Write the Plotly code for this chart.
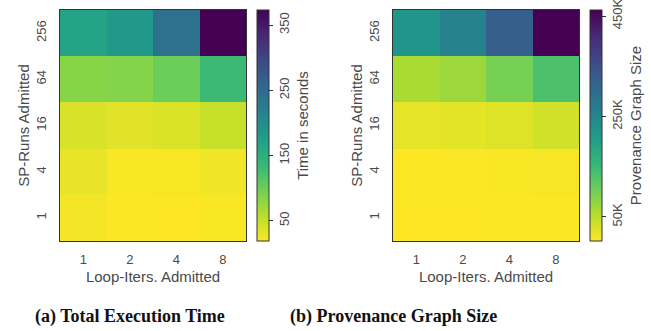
import plotly.graph_objects as go

loop_iters = ["1", "2", "4", "8"]
sp_runs = ["1", "4", "16", "64", "256"]

# Total execution time in seconds, rows = sp_runs (bottom to top), cols = loop_iters
time_seconds = [
    [24, 20, 19, 21],
    [30, 21, 22, 26],
    [40, 35, 38, 49],
    [83, 86, 100, 132],
    [168, 185, 242, 373],
]

# Provenance graph size (nodes), rows = sp_runs, cols = loop_iters
graph_size = [
    [2000, 2200, 2500, 3000],
    [3000, 3500, 5000, 7000],
    [18000, 20000, 23000, 34000],
    [62000, 71000, 99000, 135000],
    [223000, 255000, 324000, 462000],
]

time_ticks = [50, 150, 250, 350]
size_ticks = [50000, 250000, 450000]
size_ticktext = ["50K", "250K", "450K"]

captions = ["(a) Total Execution Time", "(b) Provenance Graph Size"]

W, H = 651, 331
GRAY = "#4a4a4a"
FONT = "Liberation Sans, Arial, sans-serif"

def px(x):
    return x / W

def py(y):
    return 1 - y / H

top, bot = 10, 241
panels = [
    dict(x0=60, x1=246, cb=257, z=time_seconds, zmin=19, zmax=373,
         tv=time_ticks, tt=[str(v) for v in time_ticks], title="Time in seconds"),
    dict(x0=393, x1=579, cb=590, z=graph_size, zmin=2000, zmax=462000,
         tv=size_ticks, tt=size_ticktext, title="Provenance Graph Size"),
]

fig = go.Figure()
for i, p in enumerate(panels):
    sfx = "" if i == 0 else str(i + 1)
    fig.add_trace(go.Heatmap(
        x=loop_iters, y=sp_runs, z=p["z"],
        colorscale="Viridis", reversescale=True,
        zmin=p["zmin"], zmax=p["zmax"],
        xaxis="x" + sfx, yaxis="y" + sfx,
        xgap=0, ygap=0,
        colorbar=dict(
            x=px(p["cb"]), xanchor="left", xpad=0, ypad=0,
            y=(py(top) + py(bot)) / 2, yanchor="middle",
            len=bot - top, lenmode="pixels",
            thickness=12, thicknessmode="pixels",
            outlinewidth=1, outlinecolor="#333",
            tickmode="array",
            tickvals=p["tv"], ticktext=p["tt"],
            ticks="outside", ticklen=4, tickcolor="#333",
            tickangle=-90,
            ticklabeloverflow="allow",
            tickfont=dict(family=FONT, size=13, color=GRAY),
            title=dict(text=p["title"], side="right",
                       font=dict(family=FONT, size=15, color=GRAY)),
        ),
    ))
    xa = dict(
        domain=[px(p["x0"]), px(p["x1"])], anchor="y" + sfx,
        type="category", showline=True, mirror=True, linecolor="#333", linewidth=1,
        ticks="outside", ticklen=6, tickcolor="rgba(0,0,0,0)",
        tickfont=dict(family=FONT, size=13, color=GRAY),
        title=dict(text="Loop-Iters. Admitted", standoff=5,
                   font=dict(family=FONT, size=15, color=GRAY)),
        showgrid=False, zeroline=False,
    )
    ya = dict(
        domain=[py(bot), py(top)], anchor="x" + sfx,
        type="category", showline=True, mirror=True, linecolor="#333", linewidth=1,
        ticks="outside", ticklen=8, tickcolor="rgba(0,0,0,0)",
        tickangle=-90,
        tickfont=dict(family=FONT, size=13, color=GRAY),
        title=dict(text="SP-Runs Admitted", standoff=0,
                   font=dict(family=FONT, size=15, color=GRAY)),
        showgrid=False, zeroline=False,
    )
    fig.layout["xaxis" + sfx] = xa
    fig.layout["yaxis" + sfx] = ya
    fig.add_annotation(
        text="<b>" + captions[i] + "</b>", xref="paper", yref="paper",
        x=px([130, 393][i]), y=py(316), xanchor="center", yanchor="middle",
        showarrow=False,
        font=dict(family="Liberation Serif, Times New Roman, serif", size=18, color="#111"),
    )

fig.update_layout(
    width=W, height=H,
    margin=dict(l=0, r=0, t=0, b=0),
    paper_bgcolor="white", plot_bgcolor="white",
)

fig.write_html("out.html", config={"displayModeBar": False})

with open("out.html", "r", encoding="utf-8") as f:
    html = f.read()
html = html.replace("<body>", '<body style="margin:0;padding:0;overflow:hidden">', 1)
with open("out.html", "w", encoding="utf-8") as f:
    f.write(html)
